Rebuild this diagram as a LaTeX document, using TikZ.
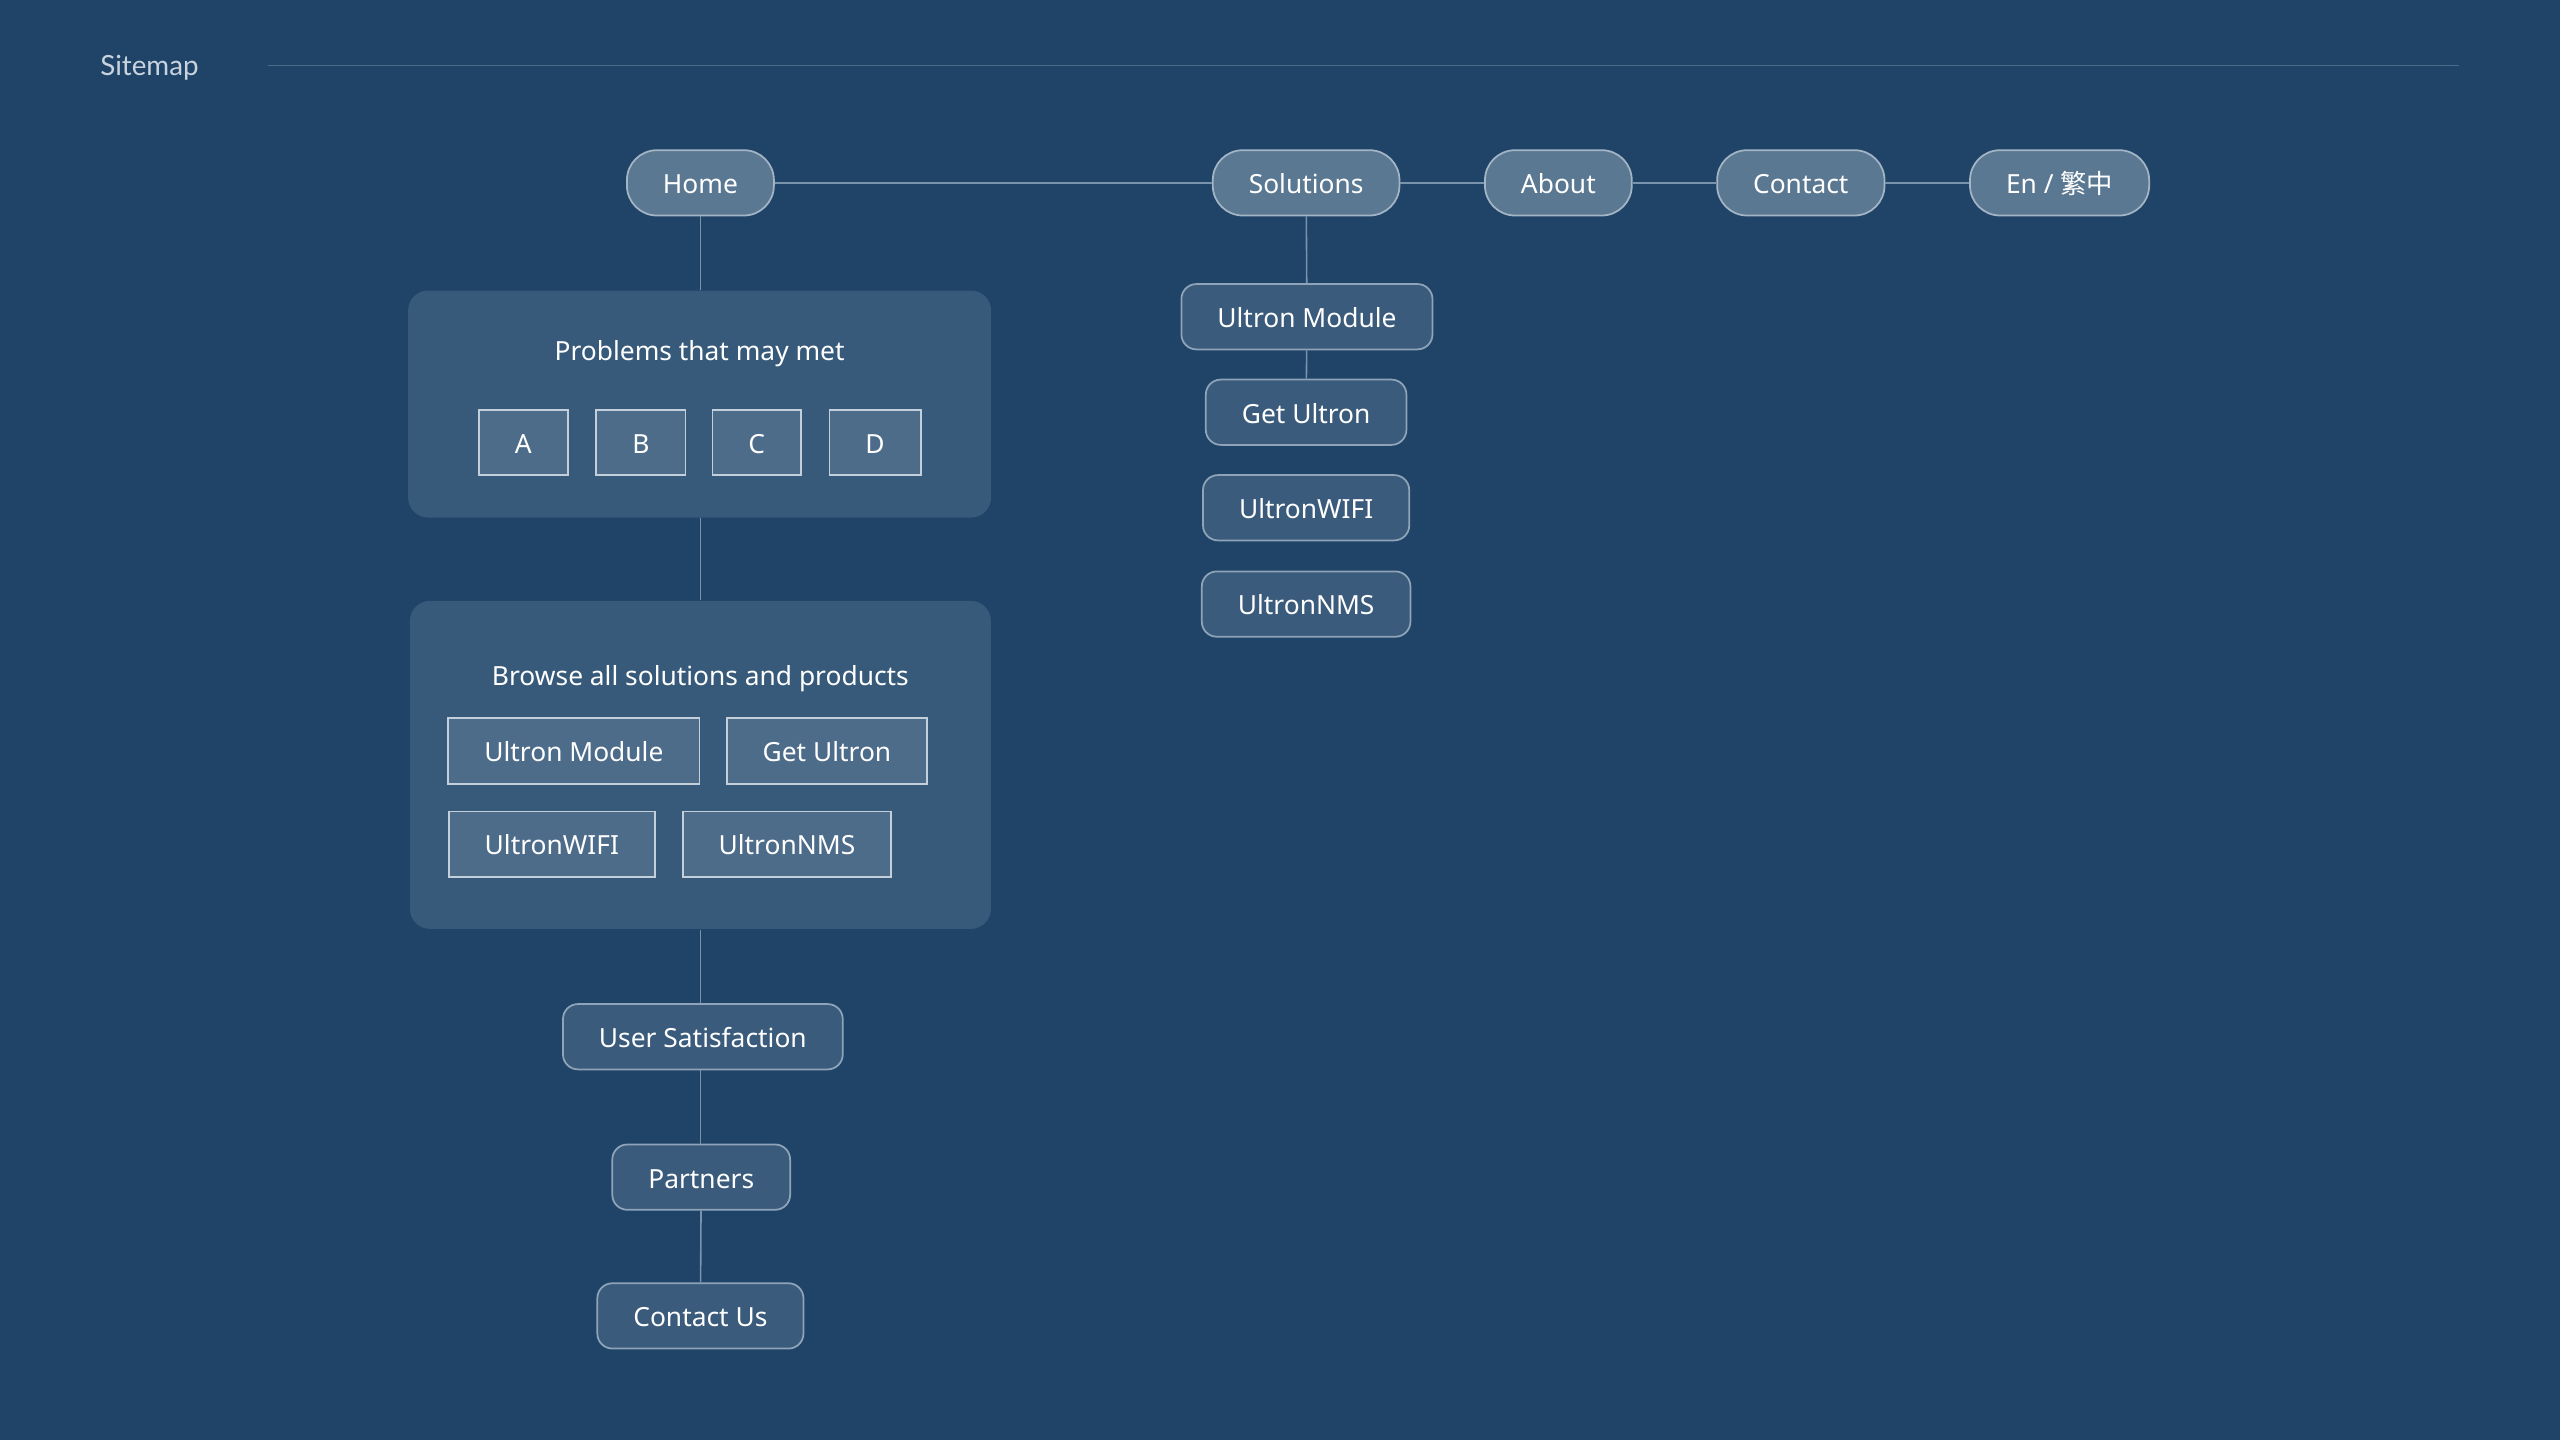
\documentclass[tikz,border=0pt]{standalone}
\usepackage{fontspec}
\setmainfont{Noto Sans}
\newfontfamily\cjkfont{Noto Sans CJK TC}
\newfontfamily\headfont{Lato}
\usetikzlibrary{calc}

\definecolor{bgblue}{HTML}{1F4468}
\definecolor{linecol}{HTML}{7A93AC}
\definecolor{rulecol}{HTML}{4A6A8A}
\definecolor{pillfill}{HTML}{5B7892}
\definecolor{pillborder}{HTML}{A3B4C5}
\definecolor{subfill}{HTML}{3A5B7B}
\definecolor{subborder}{HTML}{8FA4B9}
\definecolor{panelfill}{HTML}{375A7A}
\definecolor{itemfill}{HTML}{4D6C8A}
\definecolor{itemborder}{HTML}{C3CFDA}
\definecolor{headtext}{HTML}{C8D3DE}

\begin{document}
\begin{tikzpicture}[x=0.16327mm, y=-0.16327mm,
    font=\fontsize{7.5}{9}\selectfont,
    link/.style={draw=linecol, line width=0.45pt},
    pill/.style={draw=pillborder, fill=pillfill, line width=0.5pt, rounded corners=3mm,
        inner xsep=3.6mm, inner ysep=0pt, minimum height=6.53mm,
        text height=6.2pt, text depth=0pt, text=white},
    subbox/.style={pill, draw=subborder, fill=subfill, rounded corners=1.5mm},
    itembox/.style={pill, draw=itemborder, fill=itemfill, rounded corners=0pt},
    panel/.style={fill=panelfill, rounded corners=2mm, inner sep=0pt},
    caption/.style={inner sep=0pt, text height=6.2pt, text depth=0pt, text=white}]

    % background and page size
    \fill[bgblue] (0,0) rectangle (1568,882);
    \useasboundingbox (0,0) rectangle (1568,882);

    % header
    \node[anchor=west, inner sep=0pt, text=headtext, text height=6pt, text depth=0pt,
        font=\headfont\fontsize{7.9}{9}\selectfont] (sitemap) at (61,40) {Sitemap};
    \coordinate (rulestart) at (164,40);
    \coordinate (ruleend) at (1506,40);
    \draw[rulecol, line width=0.45pt] (rulestart) -- (ruleend);

    % top navigation
    \node[pill] (home) at (429,112) {Home};
    \node[pill] (solutions) at (800,112) {Solutions};
    \node[pill] (about) at (954.5,112) {About};
    \node[pill] (contact) at (1103,112) {Contact};
    \node[pill] (lang) at (1261.5,112) {En / {\cjkfont 繁中}};

    \draw[link] (home) -- (solutions);
    \draw[link] (solutions) -- (about);
    \draw[link] (about) -- (contact);
    \draw[link] (contact) -- (lang);

    % solutions column
    \node[subbox] (solmodule) at (800.5,194) {Ultron Module};
    \node[subbox] (solget) at (800,252.5) {Get Ultron};
    \node[subbox] (solwifi) at (800,311) {UltronWIFI};
    \node[subbox] (solnms) at (800,370) {UltronNMS};

    \draw[link] (solutions) -- (solmodule);
    \draw[link] (solmodule) -- (solget);

    % home column: problems
    \node[panel, minimum width=58.3mm, minimum height=22.7mm] (problems) at (428.5,247.5) {};
    \node[caption] (probtitle) at (428.5,214) {Problems that may met};
    \node[itembox] (pa) at (320.5,271) {A};
    \node[itembox] (pb) at (392.5,271) {B};
    \node[itembox] (pc) at (463.5,271) {C};
    \node[itembox] (pd) at (536,271) {D};

    % home column: browse
    \node[panel, minimum width=58.1mm, minimum height=32.8mm] (browse) at (429,468.5) {};
    \node[caption] (browsetitle) at (429,413) {Browse all solutions and products};
    \node[itembox] (bmodule) at (351.5,460) {Ultron Module};
    \node[itembox] (bget) at (506.5,460) {Get Ultron};
    \node[itembox] (bwifi) at (338,517) {UltronWIFI};
    \node[itembox] (bnms) at (482,517) {UltronNMS};

    % home column: lower pages
    \node[subbox] (usersat) at (430.5,635) {User Satisfaction};
    \node[subbox] (partners) at (429.5,721) {Partners};
    \node[subbox] (contactus) at (429,806) {Contact Us};

    \draw[link] (home) -- (home |- problems.north);
    \draw[link] (problems.south -| home) -- (home |- browse.north);
    \draw[link] (browse.south -| home) -- (home |- usersat.north);
    \draw[link] (usersat.south -| home) -- (home |- partners.north);
    \draw[link] (partners) -- (contactus);
\end{tikzpicture}
\end{document}
